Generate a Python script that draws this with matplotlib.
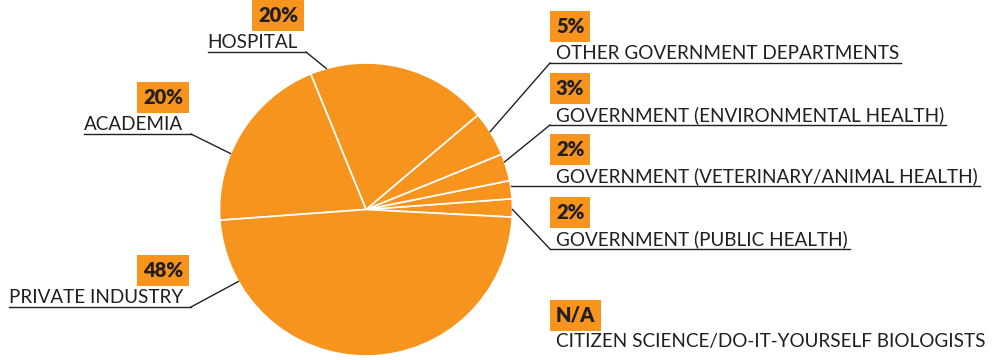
import numpy as np
import matplotlib.pyplot as plt

# data
categories = ["GOVERNMENT (PUBLIC HEALTH)", "GOVERNMENT (VETERINARY/ANIMAL HEALTH)",
              "GOVERNMENT (ENVIRONMENTAL HEALTH)", "OTHER GOVERNMENT DEPARTMENTS",
              "HOSPITAL", "ACADEMIA", "PRIVATE INDUSTRY"]
shares = [2, 2, 3, 5, 20, 20, 48]
pct_labels = ["2%", "2%", "3%", "5%", "20%", "20%", "48%"]
extra_category = "CITIZEN SCIENCE/DO-IT-YOURSELF BIOLOGISTS"
extra_label = "N/A"

ORANGE = "#F7941E"
DARK = "#231F20"
H = 360

def Y(y):
    return H - y

# layout per category: side, label x anchor, label baseline (pixels from top), leader fraction in wedge
layout = {
    "GOVERNMENT (PUBLIC HEALTH)": ("R", 556, 245, 0.42),
    "GOVERNMENT (VETERINARY/ANIMAL HEALTH)": ("R", 556, 182, 0.67),
    "GOVERNMENT (ENVIRONMENTAL HEALTH)": ("R", 556, 121, 0.70),
    "OTHER GOVERNMENT DEPARTMENTS": ("R", 556, 59, 0.55),
    "HOSPITAL": ("L", 298, 48, 0.91),
    "ACADEMIA": ("L", 183, 130, 0.63),
    "PRIVATE INDUSTRY": ("L", 183, 303, 0.146),
}

fig = plt.figure(figsize=(10, 3.6), dpi=100)
ax = fig.add_axes([0, 0, 1, 1])

cx, cy, r = 366, Y(209.5), 146.5
wedges, _ = ax.pie(shares, center=(cx, cy), radius=r, startangle=-3, counterclock=True,
                   colors=[ORANGE] * len(shares),
                   wedgeprops=dict(edgecolor="white", linewidth=1.2), frame=True)
ax.set_xlim(0, 1000)
ax.set_ylim(0, H)
ax.set_aspect("equal")
ax.axis("off")

label_font = dict(family=["Lato", "DejaVu Sans"], weight="normal", fontsize=13.6, color=DARK)
pct_font = dict(family=["Lato", "DejaVu Sans"], weight="heavy", fontsize=14.5, color=DARK)
box = dict(boxstyle="square,pad=0.3", fc=ORANGE, ec="none")

fig.canvas.draw()
renderer = fig.canvas.get_renderer()

for cat, pct, w in zip(categories, pct_labels, wedges):
    side, lx, base, frac = layout[cat]
    ha = "left" if side == "R" else "right"
    t = ax.text(lx, Y(base), cat, ha=ha, va="baseline", **label_font)
    ax.text(lx, Y(base - 26), pct, ha=ha, va="baseline", bbox=box, **pct_font)
    bb = t.get_window_extent(renderer)
    ang = np.deg2rad(w.theta1 + frac * (w.theta2 - w.theta1))
    px, py = cx + r * np.cos(ang), cy + r * np.sin(ang)
    uy = Y(base + 4)
    if side == "R":
        x0, x1 = bb.x0 - 6, bb.x1 + 2
        if abs(py - uy) < 4:
            ax.plot([px, x1], [uy, uy], color=DARK, lw=1)
        else:
            ax.plot([x0, x1], [uy, uy], color=DARK, lw=1)
            ax.plot([px, x0], [py, uy], color=DARK, lw=1)
    else:
        x0, x1 = bb.x0, bb.x1 + 8
        ax.plot([x0, x1], [uy, uy], color=DARK, lw=1)
        ax.plot([x1, px], [uy, py], color=DARK, lw=1)

ax.text(556, Y(347), extra_category, ha="left", va="baseline", **label_font)
ax.text(556, Y(322), extra_label, ha="left", va="baseline", bbox=box, **pct_font)

fig.savefig("out.png", dpi=100)
